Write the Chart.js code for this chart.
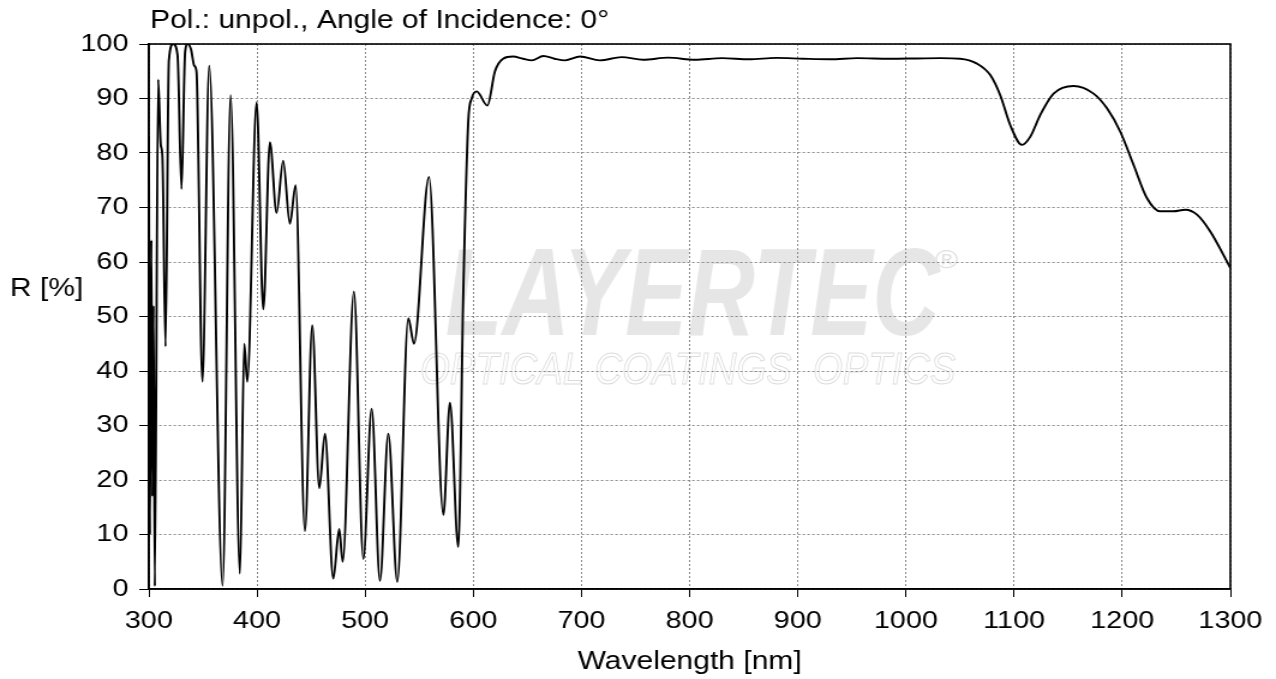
<!DOCTYPE html>
<html><head><meta charset="utf-8">
<script src="https://cdn.jsdelivr.net/npm/chart.js@4/dist/chart.umd.min.js"></script>
<style>
html,body{margin:0;padding:0;background:#fff;overflow:hidden;}
#wrap{width:1276px;height:679px;overflow:hidden;position:relative;}
#c{transform:scaleX(1.20038);transform-origin:0 0;display:block;}
</style></head><body>
<div id="wrap"><canvas id="c" width="1063" height="679"></canvas></div>
<script>
const titleText = 'Pol.: unpol., Angle of Incidence: 0°';
const xTitle = 'Wavelength [nm]';
const yTitle = 'R [%]';
const watermarkMain = 'LAYERTEC';
const watermarkSub = 'OPTICAL COATINGS  OPTICS';
const xTicks = [300, 400, 500, 600, 700, 800, 900, 1000, 1100, 1200, 1300];
const yTicks = [0, 10, 20, 30, 40, 50, 60, 70, 80, 90, 100];

const wavelength = [
  300, 301, 302.3, 303.3, 304.3, 305.5, 308.6, 311, 312.5, 315.4,
  318.5, 322.5, 326.5, 330.2, 333.5, 336, 339, 342, 344, 349.5,
  355.8, 368.2, 375.6, 384.2, 388.2, 391, 399.6, 405.8, 411.9, 418.1,
  424.2, 430.4, 435.7, 444.3, 451.1, 457.6, 462.8, 470.5, 476, 479.2,
  489.6, 498.3, 506, 513.7, 521.4, 529.7, 539.9, 545.1, 559, 572.3,
  578.4, 586.1, 590.8, 595.4, 598.5, 603.1, 613, 620, 627.5, 636.7,
  646, 654, 664.8, 675, 684.8, 698.7, 717, 737, 757, 780,
  805, 830, 855, 880, 905, 930, 955, 985, 1010, 1031.7,
  1050, 1065.7, 1078, 1087.2, 1096.5, 1107.3, 1115, 1124.2, 1136.5, 1155,
  1173.5, 1185.9, 1198.2, 1210.5, 1222.9, 1235.2, 1247.5, 1258.3, 1269.1, 1281.4,
  1300
];
const reflectance = [
  83, 10, 64, 17, 52, 0.5, 93.5, 81.5, 79.5, 44.5,
  97, 100, 98, 73.4, 98.5, 100, 99, 96, 95, 38,
  96, 0.6, 90.6, 2.8, 45, 38, 89.3, 51.3, 82, 69,
  78.6, 67, 74.1, 10.6, 48.4, 18.5, 28.5, 1.9, 11, 5,
  54.6, 5.5, 33.1, 1.5, 28.5, 1.3, 49.7, 45, 75.6, 13.6,
  34.2, 7.7, 55, 86, 90, 91.3, 88.7, 95, 97.3, 97.7,
  97.3, 97.0, 97.8, 97.3, 97.0, 97.7, 97.0, 97.6, 97.1, 97.5,
  97.1, 97.4, 97.2, 97.45, 97.3, 97.2, 97.4, 97.3, 97.35, 97.4,
  97.3, 96.4, 94.3, 90.6, 85.1, 81.5, 83, 87, 90.9, 92.3,
  90.9, 88.2, 83.9, 77.8, 71.7, 69.3, 69.3, 69.6, 68.7, 65.6,
  58.9
];

const FONT = 'Liberation Sans, Arial, sans-serif';

const decor = {
  id: 'decor',
  beforeDraw(chart) {
    const ctx = chart.ctx;
    ctx.save();
    ctx.fillStyle = '#e6e6e6';
    ctx.font = 'italic bold 125px ' + FONT;
    ctx.textBaseline = 'alphabetic';
    let w = ctx.measureText(watermarkMain).width;
    ctx.save();
    ctx.translate(371, 335);
    ctx.scale(412 / w, 1);
    ctx.fillText(watermarkMain, 0, 0);
    ctx.restore();
    ctx.strokeStyle = '#dcdcdc';
    ctx.lineWidth = 1;
    ctx.font = 'italic 44px ' + FONT;
    w = ctx.measureText(watermarkSub).width;
    ctx.save();
    ctx.translate(350, 384);
    ctx.scale(446 / w, 1);
    ctx.strokeText(watermarkSub, 0, 0);
    ctx.restore();
    ctx.fillStyle = '#e0e0e0';
    ctx.font = '26px ' + FONT;
    ctx.fillText('®', 779, 268);
    ctx.restore();
  },
  afterDraw(chart) {
    const ctx = chart.ctx;
    const a = chart.chartArea;
    ctx.save();
    ctx.strokeStyle = '#000';
    ctx.lineWidth = 1.6;
    ctx.strokeRect(a.left, a.top, a.right - a.left, a.bottom - a.top);
    ctx.fillStyle = '#000';
    ctx.textBaseline = 'alphabetic';
    ctx.textAlign = 'left';
    ctx.font = '25px ' + FONT;
    ctx.fillText(titleText, 125, 28);
    ctx.fillText(yTitle, 8.3, 296);
    ctx.restore();
  }
};

new Chart(document.getElementById('c'), {
  type: 'line',
  data: {
    datasets: [{
      data: wavelength.map((x, i) => ({x: x, y: reflectance[i]})),
      borderColor: '#000',
      borderWidth: 1.9,
      pointRadius: 0,
      fill: false,
      cubicInterpolationMode: 'monotone'
    }]
  },
  options: {
    responsive: false,
    animation: false,
    events: [],
    layout: {padding: {left: 0, right: 38, top: 44, bottom: 0}},
    plugins: {legend: {display: false}, tooltip: {enabled: false}, title: {display: false}},
    scales: {
      x: {
        type: 'linear', min: 300, max: 1300,
        afterBuildTicks: s => { s.ticks = xTicks.map(v => ({value: v})); },
        afterFit: s => { s.height = 90; },
        ticks: {color: '#000', font: {family: FONT, size: 24}, padding: 10, maxRotation: 0, autoSkip: false,
          callback: v => String(v)},
        grid: {color: '#8a8a8a', lineWidth: 1, tickColor: '#000', tickLength: 8, drawTicks: true},
        border: {display: true, color: '#000', width: 1.6, dash: [2, 2]},
        title: {display: true, text: xTitle, color: '#000', font: {family: FONT, size: 25}, padding: {top: 0, bottom: 2}}
      },
      y: {
        type: 'linear', min: 0, max: 100,
        afterBuildTicks: s => { s.ticks = yTicks.map(v => ({value: v})); },
        afterFit: s => { s.width = 124; },
        ticks: {color: '#000', font: {family: FONT, size: 24}, padding: 9, autoSkip: false,
          callback: v => String(v)},
        grid: {color: '#8a8a8a', lineWidth: 1, tickColor: '#000', tickLength: 8, drawTicks: true},
        border: {display: true, color: '#000', width: 1.6, dash: [2, 2]}
      }
    }
  },
  plugins: [decor]
});
</script>
</body></html>
